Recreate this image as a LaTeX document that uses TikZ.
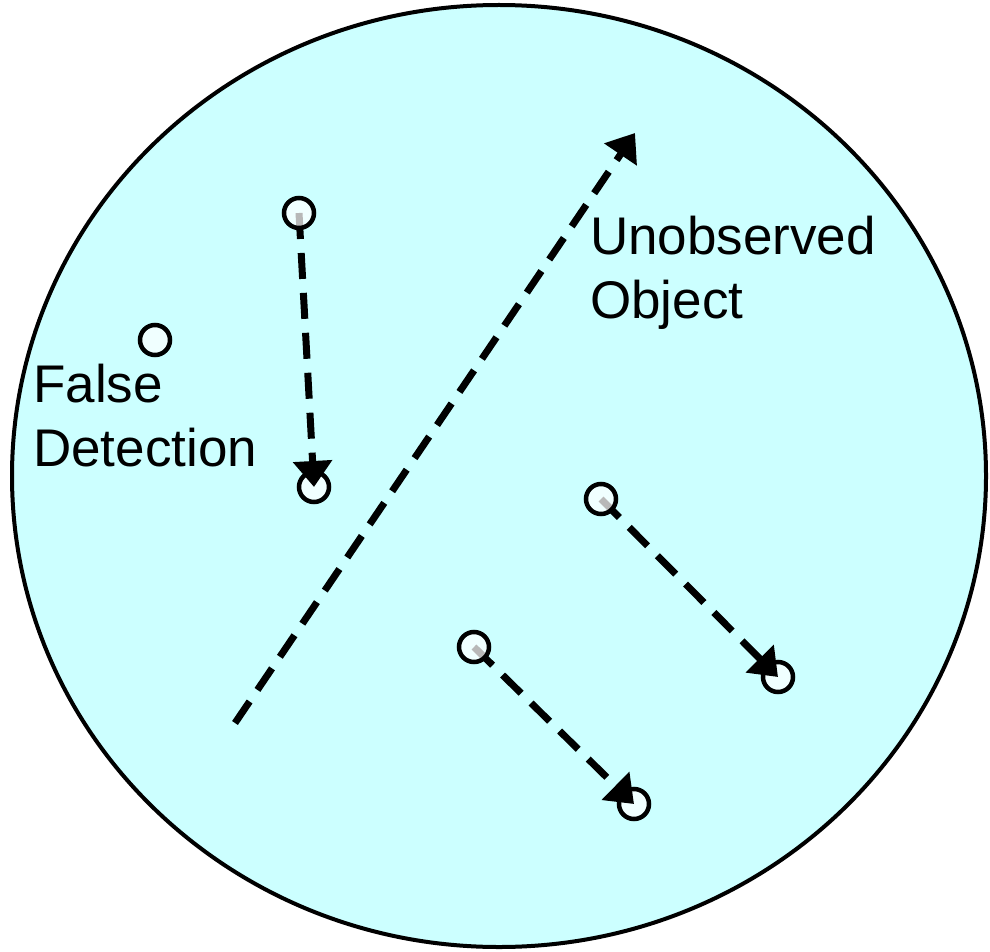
\documentclass[tikz,border=0pt]{standalone}
\usepackage{fontspec}
\setmainfont{Liberation Sans}
\usetikzlibrary{arrows.meta}
\definecolor{bgcyan}{HTML}{CCFFFF}
\tikzset{
  obs/.style={circle, draw=black, line width=4.5pt, fill=white, fill opacity=0.72, draw opacity=1, minimum size=30pt, inner sep=0pt},
  track/.style={line width=7pt, dash pattern=on 26pt off 14pt, -{Triangle[length=26pt,width=38pt]}},
  lbl/.style={font=\fontsize{53}{64}\selectfont, align=left, inner sep=0pt, anchor=north west}
}
\begin{document}
\begin{tikzpicture}[x=1pt,y=-1pt]
\useasboundingbox (0,0) rectangle (990,952);
\draw[line width=4pt, fill=bgcyan] (499,476) ellipse [x radius=487pt, y radius=471pt];
% end circles (under arrowheads)
\node[obs] (e1) at (314,487) {};
\node[obs] (e2) at (778,677) {};
\node[obs] (e3) at (634,804) {};
% start coordinates
\coordinate (s1) at (299,213);
\coordinate (s2) at (601,499);
\coordinate (s3) at (474,647);
\coordinate (u0) at (235,723);
\coordinate (u1) at (635,133);
\draw[track] (s1) -- (e1.center);
\draw[track] (s2) -- (e2.center);
\draw[track] (s3) -- (e3.center);
\draw[track] (u0) -- (u1);
% start circles (over lines)
\node[obs] (a1) at (s1) {};
\node[obs] (a2) at (s2) {};
\node[obs] (a3) at (s3) {};
\node[obs] (fd) at (155,340) {};
\node[lbl] (tu) at (590,216) {Unobserved\\Object};
\node[lbl] (tf) at (33,364) {False\\Detection};
\end{tikzpicture}
\end{document}
